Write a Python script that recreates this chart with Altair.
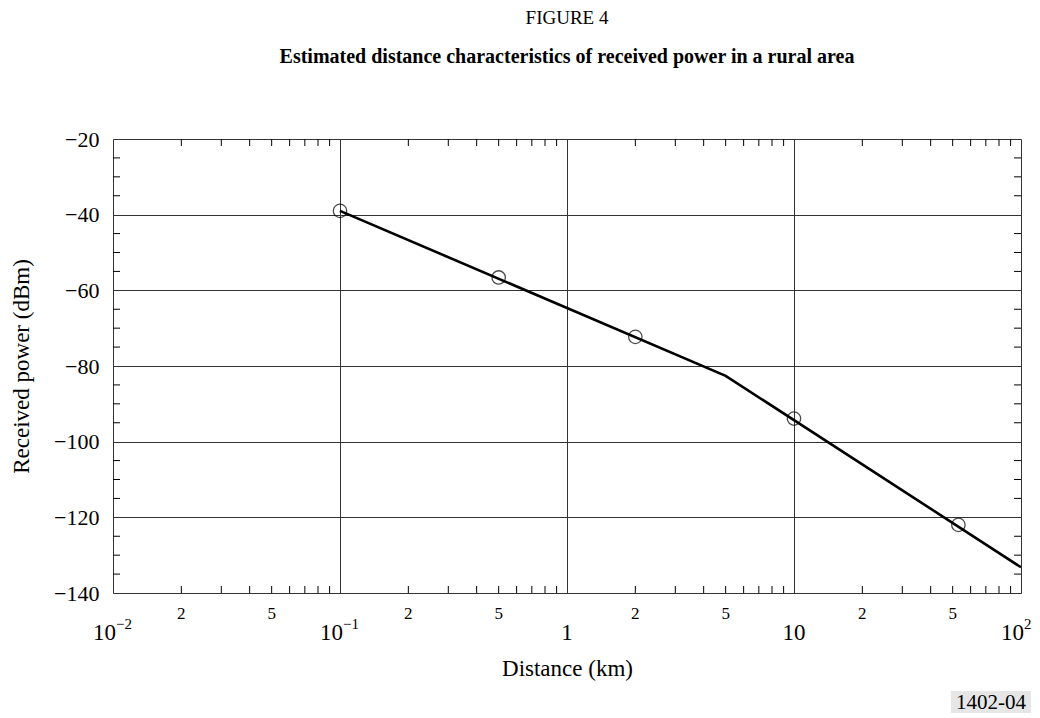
import altair as alt
import pandas as pd

# ---- data ----
line_km = [0.1, 5, 100]
line_dbm = [-39.0, -82.6, -133.2]

pt_km = [0.1, 0.5, 2, 10, 53]
pt_dbm = [-39.0, -56.6, -72.3, -93.9, -122.0]

y_ticks = [-20, -40, -60, -80, -100, -120, -140]
y_minor = [v for v in range(-135, -20, 5) if v % 20 != 0]

x_decades = [0.01, 0.1, 1, 10, 100]
x_minor = [m * d for d in [0.01, 0.1, 1, 10] for m in range(2, 10)]

minor_lab_km = [0.02, 0.05, 0.2, 0.5, 2, 5, 20, 50]
minor_lab_txt = ["2", "5", "2", "5", "2", "5", "2", "5"]

plain_dec_km = [1, 10]
plain_dec_txt = ["1", "10"]
exp_dec_km = [0.01, 0.1, 100]
exp_dec_base = ["10", "10", "10"]
exp_dec_sup = ["\u22122", "\u22121", "2"]

FONT = "Liberation Serif"
W, H = 908, 454

line_df = pd.DataFrame({"km": line_km, "dbm": line_dbm})
pt_df = pd.DataFrame({"km": pt_km, "dbm": pt_dbm})
ymin_df = pd.DataFrame({"dbm": y_minor})
xmin_df = pd.DataFrame({"km": x_minor})
mlab_df = pd.DataFrame({"km": minor_lab_km, "t": minor_lab_txt})
pdec_df = pd.DataFrame({"km": plain_dec_km, "t": plain_dec_txt})
edec_df = pd.DataFrame({"km": exp_dec_km, "b": exp_dec_base, "s": exp_dec_sup})
tag_df = pd.DataFrame({"t": ["1402-04"]})

xscale = alt.Scale(type="log", domain=[0.01, 100], nice=False)
yscale = alt.Scale(domain=[-140, -20], nice=False, zero=False)

xaxis = alt.Axis(values=x_decades, grid=True, labels=False, ticks=False, domain=False,
                 title="Distance (km)", titleFont=FONT, titleFontSize=23,
                 titleFontWeight="normal", titlePadding=64, titleColor="black",
                 gridColor="#333333", gridWidth=1)
yaxis = alt.Axis(values=y_ticks, grid=True, ticks=False, domain=False,
                 labelFont=FONT, labelFontSize=22, labelColor="black", labelPadding=14,
                 title="Received power (dBm)", titleFont=FONT, titleFontSize=23,
                 titleFontWeight="normal", titlePadding=20, titleColor="black",
                 gridColor="#333333", gridWidth=1)

base_line = alt.Chart(line_df).mark_line(color="black", strokeWidth=2.6).encode(
    x=alt.X("km:Q", scale=xscale, axis=xaxis),
    y=alt.Y("dbm:Q", scale=yscale, axis=yaxis),
)

points = alt.Chart(pt_df).mark_point(shape="circle", size=180, filled=False,
                                      color="black", strokeWidth=1.3).encode(
    x=alt.X("km:Q", scale=xscale), y=alt.Y("dbm:Q", scale=yscale))

ytl = alt.Chart(ymin_df).mark_rule(color="black", strokeWidth=1).encode(
    y=alt.Y("dbm:Q", scale=yscale), x=alt.value(0), x2=alt.value(7))
ytr = alt.Chart(ymin_df).mark_rule(color="black", strokeWidth=1).encode(
    y=alt.Y("dbm:Q", scale=yscale), x=alt.value(W - 7), x2=alt.value(W))
xtb = alt.Chart(xmin_df).mark_rule(color="black", strokeWidth=1).encode(
    x=alt.X("km:Q", scale=xscale), y=alt.value(H - 7), y2=alt.value(H))
xtt = alt.Chart(xmin_df).mark_rule(color="black", strokeWidth=1).encode(
    x=alt.X("km:Q", scale=xscale), y=alt.value(0), y2=alt.value(7))

mlab = alt.Chart(mlab_df).mark_text(font=FONT, fontSize=17, color="black",
                                     baseline="alphabetic", align="center").encode(
    x=alt.X("km:Q", scale=xscale), y=alt.value(H + 26), text="t:N")
pdec = alt.Chart(pdec_df).mark_text(font=FONT, fontSize=23, color="black",
                                     baseline="alphabetic", align="center").encode(
    x=alt.X("km:Q", scale=xscale), y=alt.value(H + 47), text="t:N")
edec_b = alt.Chart(edec_df).mark_text(font=FONT, fontSize=23, color="black",
                                       baseline="alphabetic", align="right", dx=3).encode(
    x=alt.X("km:Q", scale=xscale), y=alt.value(H + 47), text="b:N")
edec_s = alt.Chart(edec_df).mark_text(font=FONT, fontSize=15, color="black",
                                       baseline="alphabetic", align="left", dx=3).encode(
    x=alt.X("km:Q", scale=xscale), y=alt.value(H + 36), text="s:N")

tag_box = alt.Chart(tag_df).mark_rect(color="#e6e6e6").encode(
    x=alt.value(W - 70), x2=alt.value(W + 10), y=alt.value(H + 98), y2=alt.value(H + 120))
tag_txt = alt.Chart(tag_df).mark_text(font=FONT, fontSize=21, color="black",
                                       baseline="alphabetic", align="center").encode(
    x=alt.value(W - 30), y=alt.value(H + 116), text="t:N")

chart = alt.layer(
    base_line, ytl, ytr, xtb, xtt, points, mlab, pdec, edec_b, edec_s, tag_box, tag_txt
).properties(
    width=W, height=H,
    padding={"left": 105, "top": 131, "right": 11, "bottom": 122},
    autosize=alt.AutoSizeParams(type="none"),
    title=alt.TitleParams(
        "FIGURE 4",
        subtitle="Estimated distance characteristics of received power in a rural area",
        anchor="middle", font=FONT, fontSize=19, fontWeight="normal", color="black",
        subtitleFont=FONT, subtitleFontSize=20, subtitleFontWeight="bold",
        subtitleColor="black", subtitlePadding=19, offset=61,
    ),
).configure_view(stroke="black", strokeWidth=1.5).configure(background="white")

chart.save("out.html", embed_options={"renderer": "svg", "actions": False})
